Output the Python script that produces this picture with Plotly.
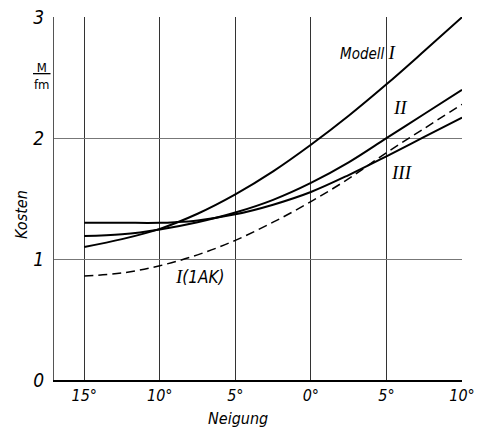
import plotly.graph_objects as go

# Neigung (degrees; left = negative side, right = positive side)
neigung = [-15, -12.5, -10, -7.5, -5, -2.5, 0, 2.5, 5, 7.5, 10]
modell_1 = [1.10, 1.165, 1.25, 1.375, 1.535, 1.725, 1.945, 2.185, 2.445, 2.72, 3.00]
modell_2 = [1.19, 1.205, 1.245, 1.305, 1.385, 1.49, 1.63, 1.80, 2.00, 2.20, 2.40]
neigung_3 = [-15, -12.5, -10, -9, -7.5, -5, -2.5, 0, 2.5, 5, 7.5, 10]
modell_3 = [1.30, 1.30, 1.30, 1.305, 1.32, 1.37, 1.45, 1.555, 1.695, 1.85, 2.01, 2.17]
modell_1_1ak = [0.86, 0.885, 0.945, 1.035, 1.155, 1.305, 1.475, 1.665, 1.88, 2.08, 2.28]

x_tickvals = [-15, -10, -5, 0, 5, 10]
x_ticktext = ["15°", "10°", "5°", "0°", "5°", "10°"]
y_tickvals = [0, 1, 2, 3]
y_ticktext = ["0", "1", "2", "3"]

FONT = "DejaVu Sans Condensed, Liberation Sans Narrow, sans-serif"
SERIF = "Liberation Serif, DejaVu Serif, serif"

fig = go.Figure()
line_style = dict(color="black", width=2, shape="spline", smoothing=1.0)
fig.add_trace(go.Scatter(x=neigung, y=modell_1, mode="lines", line=line_style, name="Modell I"))
fig.add_trace(go.Scatter(x=neigung, y=modell_2, mode="lines", line=line_style, name="II"))
fig.add_trace(go.Scatter(x=neigung_3, y=modell_3, mode="lines", line=line_style, name="III"))
fig.add_trace(go.Scatter(x=neigung, y=modell_1_1ak, mode="lines",
                         line=dict(color="black", width=1.5, dash="9px,5px", shape="spline", smoothing=1.0),
                         name="I (1AK)"))

ann_font = dict(family=FONT, size=15, color="black", style="italic")
anns = [
    dict(x=3.8, y=2.71, text=f"Modell <span style='font-family:{SERIF};font-size:19px'>I</span>"),
    dict(x=5.9, y=2.25, text=f"<span style='font-family:{SERIF};font-size:19px'>II</span>"),
    dict(x=6.0, y=1.72, text=f"<span style='font-family:{SERIF};font-size:19px'>III</span>"),
    dict(x=-7.4, y=0.86, text=f"<span style='font-family:{SERIF};font-size:19px'>I</span>"
                              f"<span style='font-size:17px'>(1AK)</span>"),
]
for a in anns:
    fig.add_annotation(xref="x", yref="y", showarrow=False, xanchor="center", yanchor="middle",
                       font=ann_font, **a)

# axis titles / unit
fig.add_annotation(xref="paper", yref="paper", x=-0.078, y=0.455, text="Kosten",
                   textangle=-90, showarrow=False, xanchor="center", yanchor="middle",
                   font=dict(family=FONT, size=16, color="black", style="italic"))
fig.add_annotation(xref="paper", yref="paper", x=0.45, y=-0.105, text="Neigung",
                   showarrow=False, xanchor="center", yanchor="middle",
                   font=dict(family=FONT, size=16, color="black", style="italic"))
fig.add_annotation(xref="paper", yref="paper", x=-0.029, y=0.837, text="<u>&nbsp;M&nbsp;</u><br>fm",
                   showarrow=False, align="center", xanchor="center", yanchor="middle",
                   font=dict(family=FONT, size=13, color="black"))

fig.update_xaxes(range=[-17, 10], tickvals=x_tickvals, ticktext=x_ticktext,
                 showgrid=True, gridcolor="#333333", gridwidth=1,
                 showline=True, linecolor="black", linewidth=1.5,
                 zeroline=False, ticks="", automargin=False, ticklabeloverflow="allow",
                 tickfont=dict(family=FONT, size=16, color="black", style="italic"))
fig.update_yaxes(range=[0, 3.002], tickvals=y_tickvals, ticktext=y_ticktext,
                 showgrid=True, gridcolor="#777777", gridwidth=1,
                 showline=True, linecolor="#555555", linewidth=1,
                 zeroline=False, ticks="", ticklabelstandoff=5, automargin=False,
                 ticklabeloverflow="allow",
                 tickfont=dict(family=FONT, size=19, color="black", style="italic"))

fig.update_layout(template="none", width=487, height=430, showlegend=False,
                  paper_bgcolor="white", plot_bgcolor="white",
                  margin=dict(l=54, r=25, t=17, b=50, pad=0))

# remove the default page margin so the figure sits at the window origin
fig.write_html("out.html", config={"displayModeBar": False},
               post_script="document.body.style.margin='0';")
